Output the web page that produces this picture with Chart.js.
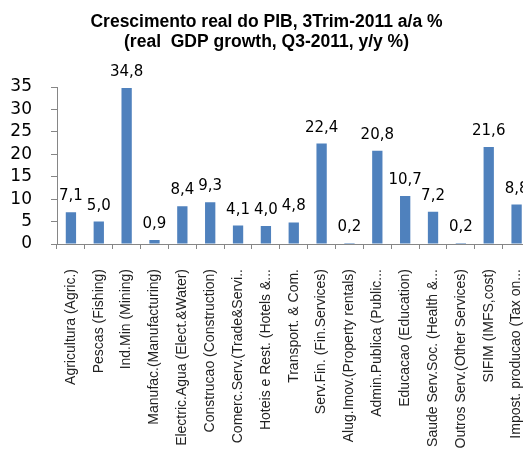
<!DOCTYPE html>
<html>
<head>
<meta charset="utf-8">
<script src="https://cdn.jsdelivr.net/npm/chart.js@4"></script>
<style>
  html, body { margin: 0; padding: 0; background: #fff; overflow: hidden; }
  #wrap { width: 554px; height: 460px; }
</style>
</head>
<body>
<div id="wrap"><canvas id="chart" width="554" height="460"></canvas></div>
<script>
const categories = [
  "Agricultura (Agric.)",
  "Pescas (Fishing)",
  "Ind.Min (Mining)",
  "Manufac.(Manufacturing)",
  "Electric.Agua (Elect.&Water)",
  "Construcao (Construction)",
  "Comerc.Serv.(Trade&Servi..",
  "Hoteis e Rest. (Hotels &...",
  "Transport. & Com.",
  "Serv.Fin. (Fin.Services)",
  "Alug.Imov.(Property rentals)",
  "Admin.Publica (Public...",
  "Educacao (Education)",
  "Saude Serv.Soc. (Health &...",
  "Outros Serv.(Other Services)",
  "SIFIM (IMFS,cost)",
  "Impost. producao (Tax on..."
];
const growth = [7.1, 5.0, 34.8, 0.9, 8.4, 9.3, 4.1, 4.0, 4.8, 22.4, 0.2, 20.8, 10.7, 7.2, 0.2, 21.6, 8.8];
const titleLines = ["Crescimento real do PIB, 3Trim-2011 a/a %", "(real  GDP growth, Q3-2011, y/y %)"];
const yTicks = [0, 5, 10, 15, 20, 25, 30, 35];

const axisGray = "#868686";

// value labels above each bar, with comma decimals
const valueLabels = {
  id: "valueLabels",
  afterDatasetsDraw(chart) {
    const ctx = chart.ctx;
    const meta = chart.getDatasetMeta(0);
    ctx.save();
    ctx.font = "15px 'DejaVu Sans'";
    ctx.fillStyle = "#000";
    ctx.textAlign = "center";
    ctx.textBaseline = "alphabetic";
    meta.data.forEach((bar, i) => {
      const txt = growth[i].toFixed(1).replace(".", ",");
      ctx.fillText(txt, bar.x, bar.y - 12);
    });
    ctx.restore();
  }
};

const ctx = document.getElementById("chart").getContext("2d");
new Chart(ctx, {
  type: "bar",
  data: {
    labels: categories,
    datasets: [{
      data: growth,
      backgroundColor: "#4F81BD",
      borderWidth: 0,
      barPercentage: 0.37,
      categoryPercentage: 1
    }]
  },
  options: {
    responsive: false,
    animation: false,
    devicePixelRatio: 1,
    layout: { padding: { left: 0, right: 21, top: 0, bottom: 0 } },
    plugins: {
      legend: { display: false },
      tooltip: { enabled: false },
      title: {
        display: true,
        text: titleLines,
        color: "#000",
        font: { family: "'Liberation Sans', Arial, sans-serif", size: 17.5, weight: "bold", lineHeight: 20 / 17.5 },
        padding: { top: 12, bottom: 35 }
      }
    },
    scales: {
      x: {
        grid: { offset: true, drawOnChartArea: false, tickLength: 5, color: axisGray },
        border: { color: axisGray },
        ticks: {
          minRotation: 90,
          maxRotation: 90,
          autoSkip: false,
          padding: 20,
          color: "#222",
          font: { family: "'Liberation Sans', Arial, sans-serif", size: 14 }
        },
        afterFit(scale) { scale.height = 216; }
      },
      y: {
        min: 0,
        max: 35,
        afterBuildTicks(scale) { scale.ticks = yTicks.map(v => ({ value: v })); },
        grid: { drawOnChartArea: false, tickLength: 6, color: axisGray },
        border: { color: axisGray },
        ticks: {
          autoSkip: false,
          padding: 19,
          color: "#000",
          font: { family: "'DejaVu Sans', sans-serif", size: 17 }
        },
        afterFit(scale) { scale.width = 57; }
      }
    }
  },
  plugins: [valueLabels]
});
</script>
</body>
</html>
